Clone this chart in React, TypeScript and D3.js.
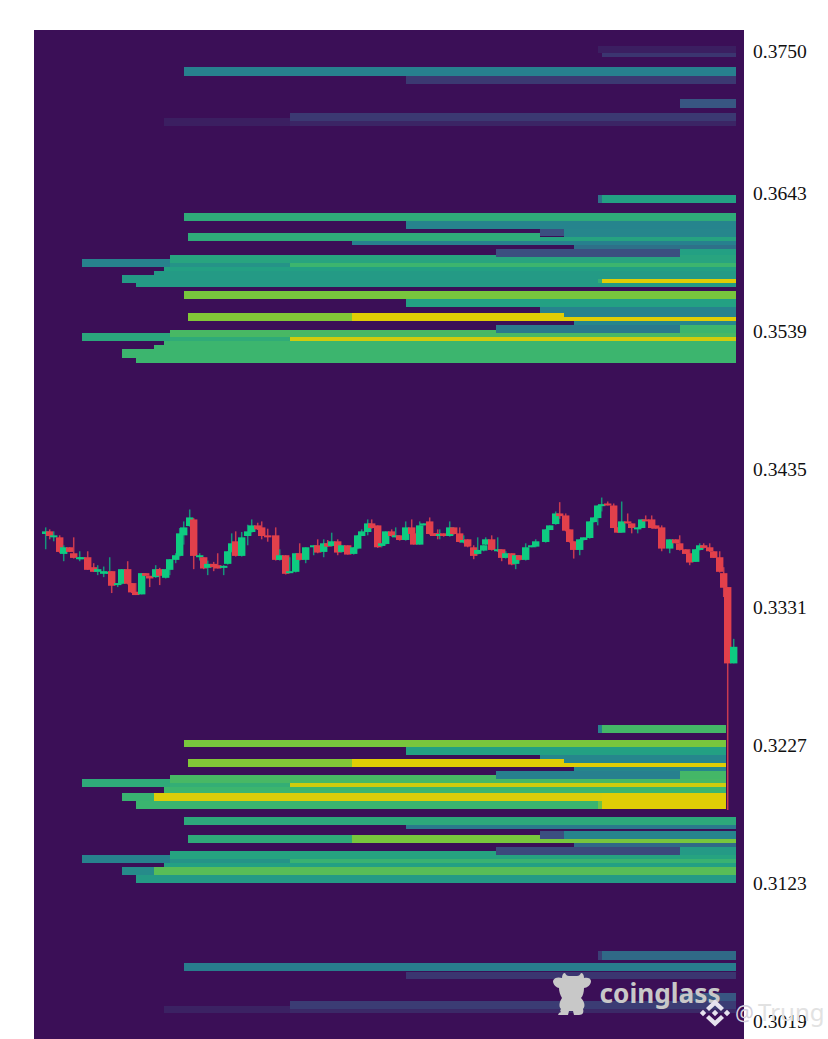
import React, { useEffect, useRef } from "react";
import { axisRight, scaleLinear, select } from "d3";

// prices are kept in 1/10000 units, x positions in candle steps
const candleTime = [0,1,2,3.5,4.5,6,7,8.5,9,10.5,12,13,14.5,16,16.5,18,19,20.5,21.5,22.5,24,25,26,27.5,28.5,30,31,32.5,33.5,34.5,36,37,38.5,39.5,40.5,42,43,44.5,45.5,46.5,47.5,49,50.5,51.5,53,54,55.5,57.5,58.5,60,61,62.5,63.5,65,67,68,69.5,70.5,71.5,73,74,75.5,77,78,79,80.5,81.5,83,84,85,86.5,87.5,88.5,90,91.5,92,93.5,94.5,96,97,98,98.5,99.5,101,102,103.5,104.5,105.5,107,108,109.5,110,111.5,113,114,115,116.5,117.5,118.5,120,121.5,122.5,125,126,127.5,128.5,130,131,132,133.5,134.5,136,137,138,139,140.5,142,143,144,145.5,146.5,148,149,150,151.5,152.5,154,156,157.5,158.5,160,161,162.5,163.5,164.5,166,167,168.5,169.5,170.5,172];
const candleOpen = [3386,3388,3384,3383.5,3371,3376,3371.5,3367.5,3367.5,3368.5,3361,3357.5,3356,3356,3358,3348,3348.5,3359.5,3349,3342.5,3340.5,3356.5,3354.5,3353.5,3359.5,3353,3359,3366.5,3369.5,3385,3392,3397,3368.5,3368.5,3360.5,3363.5,3362.5,3360.5,3363.5,3372.5,3380.5,3369.5,3384.5,3387.5,3392.5,3391,3385,3385,3366.5,3370,3356.5,3357.5,3371.5,3366.5,3376,3377.5,3372.5,3379,3377,3380.5,3372.5,3377.5,3371,3375,3384.5,3387.5,3394,3392.5,3377,3378.5,3388,3383.5,3385,3381.5,3391,3386.5,3378,3392.5,3395.5,3386.5,3386.5,3384.5,3386.5,3384.5,3391,3386.5,3379.5,3382,3376,3371,3373.5,3378,3382,3373,3374.5,3368,3371.5,3363.5,3370,3366.5,3376,3376.5,3380,3389,3393.5,3401.5,3400,3389.5,3380.5,3374,3381.5,3383,3395,3398,3407.5,3409,3407.5,3391,3387,3395.5,3394,3390,3390.5,3397,3397,3392.5,3391,3375,3382,3379,3374.5,3371.5,3365,3374,3377.5,3376,3373,3368.5,3356.5,3346,3288.5];
const candleHigh = [3391,3389.5,3388,3385,3377.5,3376,3383.5,3373,3368.5,3373,3364,3362.5,3361.5,3368.5,3358,3349,3359.5,3365.5,3349,3349,3356.5,3356.5,3354.5,3362.5,3360.5,3359.5,3367,3371.5,3390.5,3395.5,3404.5,3398,3371.5,3368.5,3366,3365,3371.5,3362.5,3373,3386.5,3388,3387.5,3393,3397,3394.5,3395.5,3390,3391,3374.5,3370,3368.5,3371.5,3379,3376,3377.5,3382,3382,3381.5,3387,3382,3377.5,3377.5,3376,3385,3389.5,3397,3397,3392.5,3379,3388,3389.5,3391,3385,3395.5,3397,3386.5,3395.5,3394,3398.5,3386.5,3389.5,3389.5,3386.5,3395.5,3391,3391,3385,3382,3377.5,3383.5,3377.5,3383.5,3385,3383.5,3374.5,3373,3371.5,3370,3370,3379,3377.5,3382,3389.5,3392.5,3403,3410,3401.5,3389.5,3380.5,3382,3383.5,3395.5,3398.5,3407.5,3413.5,3410.5,3409,3391,3410.5,3401.5,3394,3391,3397,3400,3400,3392.5,3392.5,3382,3382,3385,3374.5,3374.5,3374.5,3379,3379,3379,3373,3373,3361,3346,3307];
const candleLow = [3374.5,3382,3380.5,3371.5,3365.5,3372.5,3367.5,3365.5,3367.5,3359,3357.5,3355,3353.5,3353.5,3341.5,3346,3348,3348,3341.5,3340,3340.5,3354.5,3346,3353,3347.5,3352.5,3355,3364,3369,3378,3391.5,3359.5,3366,3359.5,3355,3358,3360,3355,3363,3372,3369,3369,3377.5,3387,3389,3382,3380.2,3366,3366,3355.5,3356.5,3357,3366,3364,3370,3371.5,3368.5,3376.5,3376.5,3370,3372,3370.5,3370.5,3374.5,3384.5,3385,3390,3375.5,3376,3378,3384,3383.5,3381,3381,3385.5,3378,3378,3392.5,3385.5,3384.5,3382,3382,3384,3384,3385.5,3379.5,3379,3376,3367,3370.5,3373,3377.5,3373.5,3372.5,3365.5,3367.5,3362.5,3359.5,3366,3366,3376,3376,3379.5,3389,3393,3397.5,3388,3379.5,3367.5,3370,3381,3382.5,3394.5,3392.5,3403,3407.5,3390.5,3387,3387,3394,3386.5,3386.5,3390.5,3396,3390,3390,3373,3371.5,3379,3373.5,3371,3362.5,3365,3373.5,3375,3372.5,3368,3357,3338.5,3178,3288.5];
const candleClose = [3388,3384.5,3385,3372.5,3376,3372.5,3368,3368.5,3368.5,3359,3357.5,3359.5,3358,3357.5,3347,3349,3359.5,3348.5,3342,3340,3356.5,3354.5,3352.5,3359.5,3354.5,3359.5,3367,3370,3386.5,3391,3398.5,3369.5,3370,3360,3363.5,3361,3360,3362,3373,3379,3369.5,3383.5,3388,3392.5,3389.5,3384.5,3384,3366.5,3370,3356,3358,3371.5,3366.5,3376,3377.5,3372,3379,3376.5,3380.5,3372,3377.5,3370.5,3376,3385,3388,3394,3390.5,3376,3379,3388,3384.5,3385,3381.5,3391,3386,3378,3392.5,3394,3386,3384.5,3384.5,3386,3384.5,3391,3386,3380,3381.5,3376.5,3369.5,3374,3377.5,3382,3374,3374.5,3368,3371.5,3363,3370,3366.5,3376,3377.5,3380.5,3389.5,3392.5,3401.5,3399.5,3388.5,3380,3374,3382,3383.5,3395.5,3398.5,3407.5,3408.5,3407.5,3390.5,3387,3395.5,3394,3390.5,3391,3397,3396,3390.5,3390,3375,3382,3379,3374,3371,3364.5,3374.5,3377.5,3375.5,3373,3368,3357.5,3345.5,3288.5,3301];

// heat rows, drawn in this order so that later rows sit on earlier ones
const bandStart = [138,139,34.5,90,158.5,61,29.5,61,138,139,34.5,90,123.5,129.5,35.5,123.5,76.5,132,31,112.5,158.5,9,31,61,29.5,27,19,22.5,138,139,34.5,90,123.5,129.5,35.5,76.5,129.5,132,31,112.5,158.5,9,31,61,29.5,27,19,22.5,
  138,139,34.5,90,123.5,129.5,35.5,76.5,129.5,132,31,112.5,158.5,9,31,61,29.5,19,27,22.5,138,139,
  34.5,90,123.5,129.5,35.5,76.5,123.5,132,31,112.5,158.5,9,31,61,29.5,19,27,22.5,
  138,139,34.5,90,158.5,61,29.5,61];
const bandEnd = [172.5,172.5,172.5,172.5,172.5,172.5,61,172.5,139,172.5,172.5,172.5,129.5,172.5,123.5,172.5,172.5,172.5,172.5,158.5,172.5,31,61,172.5,172.5,172.5,172.5,172.5,139,172.5,172.5,172.5,129.5,172.5,76.5,129.5,172.5,172.5,172.5,158.5,172.5,31,61,172.5,172.5,172.5,172.5,172.5,
  139,170,170,170,170,170,76.5,129.5,170,170,170,158.5,170,31,61,170,170,27,170,138,139,170,
  172.5,172.5,129.5,172.5,76.5,123.5,172.5,172.5,172.5,158.5,172.5,31,61,172.5,172.5,27,172.5,172.5,
  139,172.5,172.5,172.5,172.5,172.5,61,172.5];
const bandHigh = [3753.8,3748.5,3738,3731.2,3713.5,3703.3,3699.5,3697.2,3641.5,3641.5,3627.9,3621.9,3615.9,3615.9,3612.8,3609.8,3606.8,3603.8,3595.9,3600.8,3600.8,3592.9,3590.2,3590.2,3587.2,3584.2,3581.2,3575.2,3578,3578,3569.1,3563.1,3557.1,3557.1,3552.2,3552.2,3549.5,3546.2,3540.1,3543.5,3543.5,3537.5,3534.5,3534.5,3531.1,3528.4,3525.4,3519,
  3242,3242,3231.1,3225.5,3219.5,3216.5,3216.5,3216.5,3213.5,3210.4,3204.4,3207.4,3207.4,3201.4,3198.4,3198.4,3195.4,3190.8,3190.8,3184.8,3184.8,3190.8,
  3172.7,3166.7,3162.2,3162.2,3158.8,3158.8,3156.2,3153.2,3147.2,3150.2,3150.2,3144.1,3141.1,3141.1,3138.1,3135.1,3135.1,3129.1,
  3071.4,3071.4,3062.7,3055.9,3040.1,3034.1,3030.3,3028];
const bandLow = [3748.5,3745.5,3731.5,3725.5,3707.4,3697.2,3693.5,3693.5,3635.5,3635.5,3621.9,3615.9,3610.5,3609.8,3606.8,3606.8,3603.8,3600.8,3590.2,3594.8,3595.9,3587.2,3587.2,3587.2,3584.2,3581.2,3575.2,3572.1,3575,3575,3563.1,3557.1,3552.2,3549.5,3546.2,3546.2,3546.2,3543.5,3534.5,3537.5,3537.5,3531.1,3531.1,3531.1,3528.4,3525.4,3519,3514.9,
  3236,3236,3225.5,3219.5,3213.5,3213.5,3210.4,3210.4,3210.4,3207.4,3198.4,3201.4,3201.4,3195.4,3195.4,3195.4,3190.8,3184.8,3184.8,3178.8,3178.8,3178.8,
  3166.7,3163.7,3156.2,3156.2,3153.2,3153.2,3153.2,3150.2,3141.1,3144.1,3144.1,3138.1,3138.1,3138.1,3135.1,3129.1,3129.1,3123.1,
  3065.3,3065.3,3056.7,3050.3,3034.1,3028,3025,3025];
const bandValue = [.05,.12,.35,.13,.22,.13,.05,.07,.3,.5,.57,.37,.2,.38,.57,.52,.35,.3,.53,.2,.5,.36,.44,.65,.5,.47,.47,.47,.6,1,.8,.5,.36,.36,.82,1,1,.38,.68,.33,.65,.55,.58,.97,.65,.65,.65,.65,
  .35,.67,.8,.5,.38,.38,.82,1,1,.38,.68,.35,.67,.57,.6,.97,.65,.63,.99,.64,.78,1,
  .56,.33,.2,.37,.57,.8,.8,.28,.52,.18,.47,.36,.44,.63,.5,.4,.72,.47,
  .15,.28,.34,.12,.22,.14,.06,.08];

const heatStops = [0, 0.2, 0.35, 0.5, 0.65, 0.8, 1];
const heatColors = ["#3b0f57", "#3b4f80", "#27808e", "#23a083", "#3cb56e", "#78c63d", "#e0cd05"];
const priceTicks = [0.375, 0.3643, 0.3539, 0.3435, 0.3331, 0.3227, 0.3123, 0.3019];

export default function App() {
  const ref = useRef<SVGSVGElement>(null);

  useEffect(() => {
    const svg = select(ref.current);
    svg.selectAll("*").remove();

    const plot = { left: 34, right: 744, top: 30, bottom: 1039 };
    const x = scaleLinear().domain([0, 172]).range([45.7, 733.7]);
    const y = scaleLinear().domain([0.3019, 0.375]).range([1021, 51]);
    const py = (p: number) => y(p / 10000);
    const heat = scaleLinear<string>().domain(heatStops).range(heatColors);

    svg
      .append("rect")
      .attr("x", plot.left)
      .attr("y", plot.top)
      .attr("width", plot.right - plot.left)
      .attr("height", plot.bottom - plot.top)
      .attr("fill", "#3b0f57");

    svg
      .append("g")
      .attr("shape-rendering", "crispEdges")
      .selectAll("rect")
      .data(bandStart.map((_, i) => i))
      .join("rect")
      .attr("x", (i) => x(bandStart[i]))
      .attr("width", (i) => x(bandEnd[i]) - x(bandStart[i]))
      .attr("y", (i) => py(bandHigh[i]))
      .attr("height", (i) => py(bandLow[i]) - py(bandHigh[i]))
      .attr("fill", (i) => heat(bandValue[i]));

    // Candles
    const bodyWidth = 7.4;
    const up = "#0ecb81";
    const down = "#e2404b";
    const candles = svg
      .append("g")
      .selectAll("g")
      .data(candleTime.map((_, i) => i))
      .join("g");
    candles
      .append("line")
      .attr("x1", (i) => x(candleTime[i]))
      .attr("x2", (i) => x(candleTime[i]))
      .attr("y1", (i) => py(candleHigh[i]))
      .attr("y2", (i) => py(candleLow[i]))
      .attr("stroke", (i) => (candleClose[i] >= candleOpen[i] ? "#16947a" : "#c93a50"))
      .attr("stroke-width", 1.5);
    candles
      .append("rect")
      .attr("x", (i) => x(candleTime[i]) - bodyWidth / 2)
      .attr("width", bodyWidth)
      .attr("y", (i) => py(Math.max(candleOpen[i], candleClose[i])))
      .attr("height", (i) => Math.max(2, Math.abs(py(candleOpen[i]) - py(candleClose[i]))))
      .attr("fill", (i) => (candleClose[i] >= candleOpen[i] ? up : down));

    const axis = svg
      .append("g")
      .attr("transform", `translate(${plot.right},0)`)
      .call(
        axisRight(y)
          .tickValues(priceTicks)
          .tickSize(0)
          .tickPadding(9)
          .tickFormat((d) => (+d).toFixed(4))
      );
    axis.select(".domain").remove();
    axis
      .selectAll("text")
      .attr("font-family", "'Liberation Serif', serif")
      .attr("font-size", 19.6)
      .attr("fill", "#111");

    // Watermark
    const mark = svg.append("g");
    mark
      .append("path")
      .attr(
        "d",
        "M553 981 C554 977 559 977 562 978 C562 975 563 973 565 973 C566 975 567 976 569 976 L577 976 C579 976 580 975 581 973 C583 973 584 975 584 978 C587 977 591 978 591 981 C591 985 587 988 584 988 C584 992 583 996 581 998 C584 1001 586 1006 583 1009 C584 1012 583 1015 579 1015 L574 1015 L573 1011 L569 1011 L568 1015 L564 1015 L558 1015 L559 1013 L561 1012 C560 1011 560 1010 561 1009 C558 1006 560 1001 562 998 C560 995 559 991 559 988 C557 988 553 985 553 981 Z"
      )
      .attr("fill", "#c8c8c8");
    mark
      .append("text")
      .text("coinglass")
      .attr("x", 599.5)
      .attr("y", 1002.5)
      .attr("font-family", "'Noto Sans', sans-serif")
      .attr("font-weight", 700)
      .attr("font-size", 26.2)
      .attr("fill", "#c8c8c8");
    mark
      .append("path")
      .attr(
        "d",
        "M715 999.5 L724 1008 L721 1011 L715 1005.5 L709 1011 L706 1008 Z M715 1026.5 L724 1018 L721 1015 L715 1020.5 L709 1015 L706 1018 Z M715 1009.8 L718.2 1013 L715 1016.2 L711.8 1013 Z M703 1009.8 L706.2 1013 L703 1016.2 L699.8 1013 Z M727 1009.8 L730.2 1013 L727 1016.2 L723.8 1013 Z"
      )
      .attr("fill", "#e6e2ee");
    mark
      .append("text")
      .text("@")
      .attr("x", 735)
      .attr("y", 1021)
      .attr("font-family", "'Noto Sans', sans-serif")
      .attr("font-size", 21)
      .attr("fill", "#d4d0dc");
    mark
      .append("text")
      .text("Trung")
      .attr("x", 758)
      .attr("y", 1021)
      .attr("font-family", "'Noto Sans', sans-serif")
      .attr("font-size", 24)
      .attr("fill", "#e2e2e2");
  }, []);

  return (
    <svg
      ref={ref}
      width={828}
      height={1039}
      style={{ position: "absolute", top: 0, left: 0, display: "block", background: "#fff" }}
    />
  );
}
